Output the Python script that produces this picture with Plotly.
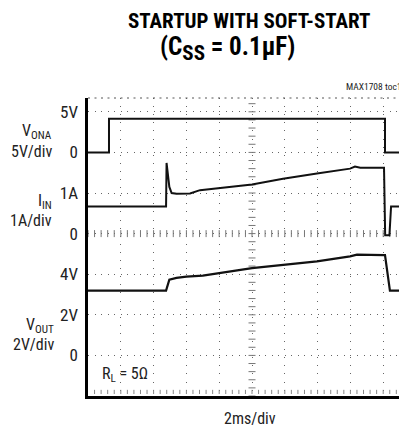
import numpy as np
import plotly.graph_objects as go

# ---- data (time in ms, 2 ms/div) ----
t_ona = [0, 1.28, 1.28, 18.11, 18.11, 19.6]
v_ona = [0, 0, 4.15, 4.15, 0, 0]  # V, 5V/div

t_iin = [0, 4.76, 4.79, 4.96, 5.10, 5.40, 6.22, 6.83, 10.0, 11.89, 13.96, 15.98,
         16.28, 16.6, 18.05, 18.12, 18.38, 18.48, 19.6]
i_in = [0.67, 0.67, 1.74, 1.15, 1.00, 0.98, 0.99, 1.07, 1.21, 1.35, 1.48, 1.60,
        1.65, 1.62, 1.62, -0.04, -0.04, 0.67, 0.67]  # A, 1A/div

t_out = [0, 4.76, 4.96, 5.40, 6.0, 7.0, 10.0, 11.89, 13.96, 15.98, 16.40, 18.05,
         18.11, 18.41, 19.6]
v_out = [3.19, 3.19, 3.73, 3.82, 3.88, 3.93, 4.30, 4.47, 4.63, 4.88, 4.96, 4.94,
         4.94, 3.19, 3.19]  # V, 2V/div

ona_ticks = [0, 5]
ona_labels = ["0", "5V"]
iin_ticks = [0, 1]
iin_labels = ["0", "1A"]
out_ticks = [0, 2, 4]
out_labels = ["0", "2V", "4V"]

# ---- layout constants (page body has an 8px margin) ----
OFF = 8
W, H = 407 - OFF, 429 - OFF
L, T, R, B = 88 - OFF, 98 - OFF, 407 - OFF, 396 - OFF
NDIV_Y = (B - T) / 40.6          # visible divisions vertically
XMAX = (R - L) / 32.8 * 2        # visible ms horizontally
FONT = "Liberation Sans Narrow, Arial Narrow, Roboto Condensed, Liberation Sans, sans-serif"
LC = "#111111"


def pxx(x):
    return (x - OFF - L) / (R - L)


def pxy(y):
    return (B - (y - OFF)) / (B - T)


fig = go.Figure()

# graticule tick marks: centre crosshair and bottom edge
cx = np.arange(0, XMAX + 0.01, 0.4)
cy = np.arange(0, NDIV_Y + 0.01, 0.2)
tick_marker_v = dict(symbol="line-ns", size=5, line=dict(width=1, color="#777"))
tick_marker_h = dict(symbol="line-ew", size=5, line=dict(width=1, color="#777"))
fig.add_trace(go.Scatter(x=cx, y=[4] * len(cx), mode="markers", hoverinfo="skip",
                         marker=tick_marker_v, showlegend=False))
fig.add_trace(go.Scatter(x=[10] * len(cy), y=cy, mode="markers", hoverinfo="skip",
                         marker=tick_marker_h, showlegend=False))
fig.add_trace(go.Scatter(x=cx[1:], y=[0.1] * (len(cx) - 1), mode="markers", hoverinfo="skip",
                         marker=dict(symbol="line-ns", size=3, line=dict(width=1, color="#888")),
                         showlegend=False))

fig.add_trace(go.Scatter(x=t_ona, y=v_ona, yaxis="y2", mode="lines",
                         line=dict(color=LC, width=2), showlegend=False))
fig.add_trace(go.Scatter(x=t_iin, y=i_in, yaxis="y3", mode="lines",
                         line=dict(color=LC, width=2), showlegend=False))
fig.add_trace(go.Scatter(x=t_out, y=v_out, yaxis="y4", mode="lines",
                         line=dict(color=LC, width=2.2), showlegend=False))

chan_axis = dict(overlaying="y", side="left", showgrid=False, zeroline=False,
                 showline=False, ticks="", ticklabelstandoff=9,
                 tickfont=dict(family=FONT, size=17, color="#222"))

fig.update_layout(
    width=W, height=H,
    margin=dict(l=L, r=W - R, t=T, b=H - B),
    paper_bgcolor="white", plot_bgcolor="white",
    xaxis=dict(range=[0, XMAX], tick0=0, dtick=2, showgrid=True, gridcolor="#666",
               gridwidth=1, griddash="1px,7.1px", showticklabels=False, ticks="",
               zeroline=False, showline=True, linewidth=3, linecolor="black"),
    yaxis=dict(range=[0, NDIV_Y], tick0=0, dtick=1, showgrid=True, gridcolor="#666",
               gridwidth=1, griddash="1px,5.56px", showticklabels=False, ticks="",
               zeroline=False, showline=True, linewidth=3, linecolor="black"),
    yaxis2=dict(chan_axis, range=[-6 * 5, (NDIV_Y - 6) * 5],
                tickvals=ona_ticks, ticktext=ona_labels),
    yaxis3=dict(chan_axis, range=[-4 * 1, (NDIV_Y - 4) * 1],
                tickvals=iin_ticks, ticktext=iin_labels),
    yaxis4=dict(chan_axis, range=[-1 * 2, (NDIV_Y - 1) * 2],
                tickvals=out_ticks, ticktext=out_labels),
)

# top dotted edge of graticule
fig.add_shape(type="line", xref="paper", yref="paper", x0=0, x1=1, y0=1, y1=1,
              line=dict(color="#555", width=1, dash="2px,4.5px"))

ann = []


def text(s, x, y, size=17, xanchor="right", color="#222"):
    ann.append(dict(text=s, x=pxx(x), y=pxy(y), xref="paper", yref="paper",
                    xanchor=xanchor, yanchor="middle", showarrow=False,
                    font=dict(family=FONT, size=size, color=color)))


text("<b>STARTUP WITH SOFT-START</b>", 249, 21, size=21, xanchor="center", color="black")
text("<b>(C<sub><span style='font-size:21px'>SS</span></sub> = 0.1µF)</b>", 227, 49,
     size=25, xanchor="center", color="black")
text("MAX1708 toc1", 344, 86, size=9.5, xanchor="left")
text("V<sub>ONA</sub>", 54, 131, size=16)
text("5V/div", 54, 151, size=16)
text("I<sub>IN</sub>", 54, 201, size=16)
text("1A/div", 54, 220, size=16)
text("V<sub>OUT</sub>", 56, 325, size=16)
text("2V/div", 56, 344, size=16)
text("R<sub>L</sub> = 5Ω", 100, 374, size=16, xanchor="left")
text("2ms/div", 250, 418, size=16, xanchor="center")

fig.update_layout(annotations=ann)
fig.write_html("out.html")
